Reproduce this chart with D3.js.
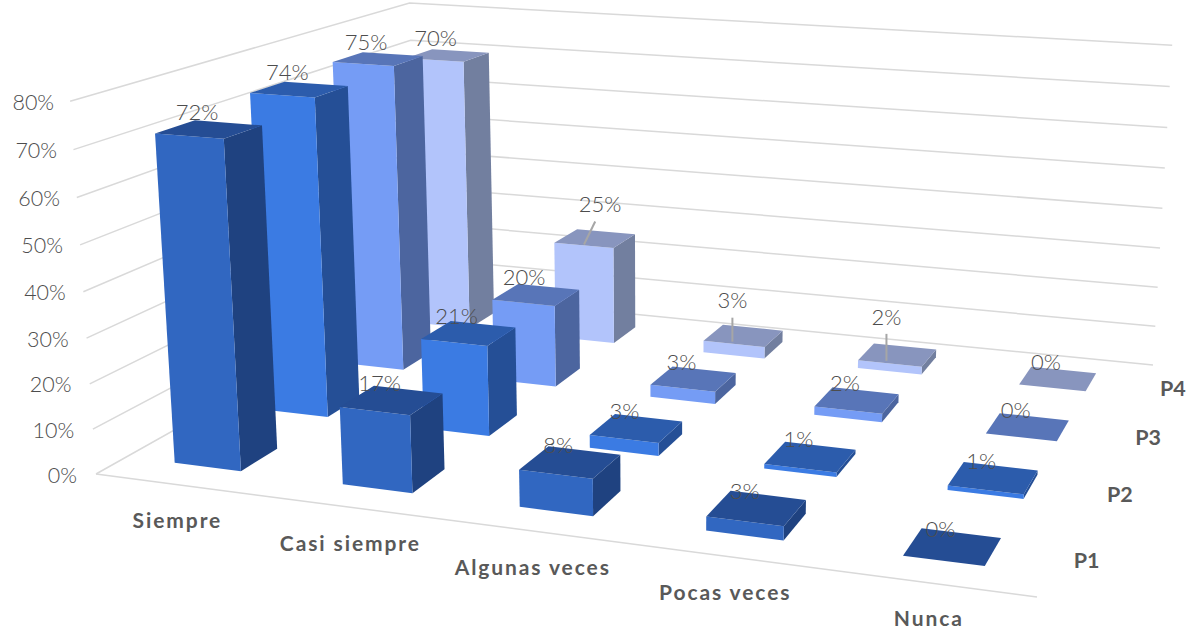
<!DOCTYPE html>
<html><head><meta charset="utf-8">
<script src="https://cdnjs.cloudflare.com/ajax/libs/d3/7.8.5/d3.min.js"></script>
<style>html,body{margin:0;padding:0;background:#fff}svg{display:block}text{font-family:Lato,"Open Sans",sans-serif;fill:#595959}</style>
</head><body><svg id="c" width="1188" height="629"></svg>
<script>
const categories = ["Siempre","Casi siempre","Algunas veces","Pocas veces","Nunca"];
const seriesNames = ["P1","P2","P3","P4"];
const P1 = [72,17,8,3,0];
const P2 = [74,21,3,1,1];
const P3 = [75,20,3,2,0];
const P4 = [70,25,3,2,0];
const tickValues = [0,10,20,30,40,50,60,70,80];

const seriesValues = [P1,P2,P3,P4];
const faceColors = {
  P1:{front:"#3167C1",side:"#1F4280",top:"#254D94"},
  P2:{front:"#3B7BE3",side:"#254F96",top:"#2C5CAC"},
  P3:{front:"#759CF5",side:"#4C659F",top:"#5875B8"},
  P4:{front:"#B2C4FB",side:"#727F9F",top:"#8895BE"}
};
// Chart frame in the picture: floor corners and wall tops
const floor = {A:[96,474],B:[1037,597],C:[1153,365],D:[418,293]};
const tops = [{u:0,v:0,p:[72.5,103]},{u:0,v:1,p:[407,4]},{u:1,v:1,p:[1173,42.5]}];
const labelShift = [-12,-17];
const leaderShift = {"P4|Casi siempre":[5,-34],"P4|Algunas veces":[-11,-35],"P4|Pocas veces":[-11,-38]};

// Projective camera: floor homography plus vertical column
function homography(A,B,C,D){ // (0,0)=A (1,0)=B (1,1)=C (0,1)=D
  const dx1=B[0]-C[0],dx2=D[0]-C[0],sx=A[0]-B[0]+C[0]-D[0];
  const dy1=B[1]-C[1],dy2=D[1]-C[1],sy=A[1]-B[1]+C[1]-D[1];
  const det=dx1*dy2-dx2*dy1;
  const g=(sx*dy2-dx2*sy)/det,h=(dx1*sy-sx*dy1)/det;
  return {a:B[0]-A[0]+g*B[0],b:D[0]-A[0]+h*D[0],d:A[0],e:B[1]-A[1]+g*B[1],f:D[1]-A[1]+h*D[1],k:A[1],g,h};
}
const H=homography(floor.A,floor.B,floor.C,floor.D);
function solve3(M,r){
  const m=M.map((row,i)=>[...row,r[i]]);
  for(let i=0;i<3;i++){
    let p=i;for(let j=i+1;j<3;j++)if(Math.abs(m[j][i])>Math.abs(m[p][i]))p=j;
    [m[i],m[p]]=[m[p],m[i]];
    for(let j=0;j<3;j++)if(j!==i){const t=m[j][i]/m[i][i];for(let c=i;c<4;c++)m[j][c]-=t*m[i][c];}
  }
  return m.map((row,i)=>row[3]/row[i]);
}
const rows=[],rhs=[];
tops.forEach(({u,v,p})=>{
  const den=H.g*u+H.h*v+1;
  rows.push([1,0,-p[0]]);rhs.push(p[0]*den-(H.a*u+H.b*v+H.d));
  rows.push([0,1,-p[1]]);rhs.push(p[1]*den-(H.e*u+H.f*v+H.k));
});
const NtN=[0,1,2].map(i=>[0,1,2].map(j=>d3.sum(rows,r=>r[i]*r[j])));
const Ntb=[0,1,2].map(i=>d3.sum(rows,(r,n)=>r[i]*rhs[n]));
const [wx,wy,wi]=solve3(NtN,Ntb);
function project(u,v,w){
  const den=H.g*u+H.h*v+wi*w+1;
  return [(H.a*u+H.b*v+wx*w+H.d)/den,(H.e*u+H.f*v+wy*w+H.k)/den];
}

// Scales
const uScale=d3.scaleBand().domain(categories).range([-0.001,0.999]).paddingInner(0.6).paddingOuter(0.3);
const vScale=d3.scaleBand().domain(seriesNames).range([0,1]).paddingInner(0.6).paddingOuter(0.3);
const wScale=d3.scaleLinear().domain([0,80]).range([0,1]);

const svg=d3.select("#c");
const line=d3.line();
// Gridlines on the two walls and the front floor edge
const grid=svg.append("g").attr("fill","none").attr("stroke","#D9D9D9").attr("stroke-width",1.5);
grid.selectAll("path.t").data(tickValues).join("path").attr("class","t")
  .attr("d",t=>{const w=wScale(t);return line([project(0,0,w),project(0,1,w),project(1,1,w)]);});
grid.append("path").attr("d",line([project(0,0,0),project(1,0,0)]));

// Tick labels
svg.append("g").selectAll("text").data(tickValues).join("text")
  .attr("text-anchor","end").attr("font-size",21.5).attr("font-weight",300).attr("dy","0.35em")
  .style("fill","#4d4d4d")
  .attr("x",t=>project(0,0,wScale(t))[0]-19+3*wScale(t))
  .attr("y",t=>project(0,0,wScale(t))[1]+1)
  .text(t=>t+"%");

// Bars, far series first
const bars=[];
seriesNames.slice().reverse().forEach(s=>{
  const vals=seriesValues[seriesNames.indexOf(s)];
  categories.forEach((c,i)=>{
    const u0=uScale(c),u1=u0+uScale.bandwidth(),v0=vScale(s),v1=v0+vScale.bandwidth(),w=wScale(vals[i]);
    bars.push({s,c,value:vals[i],u0,u1,v0,v1,w});
  });
});
const barG=svg.append("g").selectAll("g").data(bars).join("g");
barG.append("path").attr("fill",d=>faceColors[d.s].side)
  .attr("d",d=>line([project(d.u1,d.v0,0),project(d.u1,d.v1,0),project(d.u1,d.v1,d.w),project(d.u1,d.v0,d.w)])+"Z");
barG.append("path").attr("fill",d=>faceColors[d.s].front)
  .attr("d",d=>line([project(d.u0,d.v0,0),project(d.u1,d.v0,0),project(d.u1,d.v0,d.w),project(d.u0,d.v0,d.w)])+"Z");
barG.append("path").attr("fill",d=>faceColors[d.s].top)
  .attr("d",d=>line([project(d.u0,d.v0,d.w),project(d.u1,d.v0,d.w),project(d.u1,d.v1,d.w),project(d.u0,d.v1,d.w)])+"Z");

// Value labels and leaders
const topCentre=d=>project((d.u0+d.u1)/2,(d.v0+d.v1)/2,d.w);
const labelPos=d=>{
  const p=topCentre(d),o=leaderShift[d.s+"|"+d.c]||labelShift;
  return [p[0]+o[0],p[1]+o[1]];
};
svg.append("g").selectAll("path").data(bars.filter(d=>leaderShift[d.s+"|"+d.c])).join("path")
  .attr("fill","none").attr("stroke","#A6A6A6").attr("stroke-width",2)
  .attr("d",d=>{
    const p=topCentre(d),l=labelPos(d),end=[p[0]-11,p[1]+6];
    return line([[l[0]+(end[0]-l[0])*0.3,l[1]+17],end]);
  });
svg.append("g").selectAll("text").data(bars).join("text")
  .attr("text-anchor","middle").attr("dy","0.35em").attr("font-size",22).attr("font-weight",300)
  .style("fill","#4d4d4d")
  .attr("x",d=>labelPos(d)[0]).attr("y",d=>labelPos(d)[1]).text(d=>d.value+"%");

// Category and series labels
svg.append("g").selectAll("text").data(categories).join("text")
  .attr("text-anchor","middle").attr("font-size",21).attr("font-weight",700).attr("letter-spacing",1.9).attr("dy","0.35em")
  .attr("x",c=>project(uScale(c)+uScale.bandwidth()/2,0,0)[0]-1)
  .attr("y",c=>project(uScale(c)+uScale.bandwidth()/2,0,0)[1]+36)
  .text(c=>c);
svg.append("g").selectAll("text").data(seriesNames).join("text")
  .attr("text-anchor","middle").attr("font-size",21.5).attr("font-weight",700).attr("dy","0.35em")
  .attr("x",s=>project(1,vScale(s)+vScale.bandwidth()/2,0)[0]+31)
  .attr("y",s=>project(1,vScale(s)+vScale.bandwidth()/2,0)[1]+1)
  .text(s=>s);
</script></body></html>
